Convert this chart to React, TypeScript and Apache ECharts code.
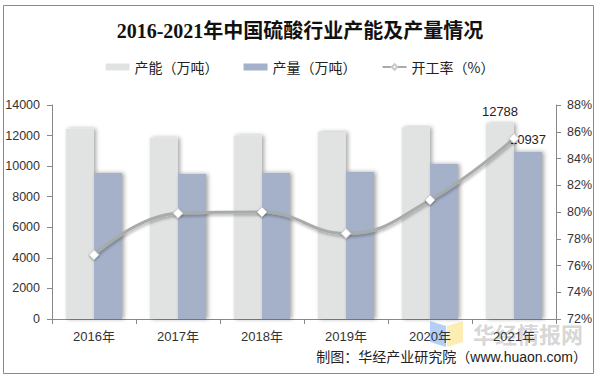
import React, { useEffect, useRef } from "react";
import * as echarts from "echarts";

const years = ["2016年", "2017年", "2018年", "2019年", "2020年", "2021年"];
const capacity = [12450, 11850, 12000, 12240, 12550, 12788];
const output = [9550, 9490, 9560, 9620, 10140, 10937];
const rate = [76.8, 79.9, 80.0, 78.4, 80.9, 85.5];
const leftTicks = { min: 0, max: 14000, interval: 2000 };
const rightTicks = { min: 72, max: 88, interval: 2 };

const CJK = "'Noto Sans CJK SC'";
const SANS = "'Liberation Sans', 'Noto Sans CJK SC', sans-serif";

export default function App() {
  const ref = useRef<HTMLDivElement>(null);
  useEffect(() => {
    if (!ref.current) return;
    const chart = echarts.init(ref.current, undefined, { renderer: "svg" });
    const last = years.length - 1;
    const withLastLabel = (arr: number[]) =>
      arr.map((v, i) =>
        i === last
          ? { value: v, label: { show: true, position: "top", distance: 6, color: "#222", fontSize: 13, fontFamily: SANS } }
          : v
      );
    const barShadow = {
      shadowColor: "rgba(0,0,0,0.35)",
      shadowBlur: 4,
      shadowOffsetX: 2,
      shadowOffsetY: 0,
    };
    chart.setOption({
      animation: false,
      backgroundColor: "#fff",
      title: {
        text: "2016-2021年中国硫酸行业产能及产量情况",
        left: "center",
        top: 16,
        textStyle: {
          fontSize: 20,
          fontWeight: "bold",
          color: "#111",
          fontFamily: "'Liberation Serif', 'Noto Sans CJK SC', serif",
        },
      },
      legend: {
        top: 55,
        left: "center",
        itemWidth: 24,
        itemHeight: 7,
        itemGap: 25,
        textStyle: { fontSize: 14, color: "#222", fontFamily: CJK },
        data: [
          { name: "产能（万吨）", icon: "rect" },
          { name: "产量（万吨）", icon: "rect" },
          { name: "开工率（%）" },
        ],
      },
      grid: { left: 52, right: 44, top: 105, bottom: 61 },
      xAxis: {
        type: "category",
        data: years,
        axisLine: { lineStyle: { color: "#888", width: 1 } },
        axisTick: { show: true, length: 5, lineStyle: { color: "#888" } },
        axisLabel: { color: "#333", fontSize: 13, margin: 11, fontFamily: SANS },
      },
      yAxis: [
        {
          type: "value",
          min: leftTicks.min,
          max: leftTicks.max,
          interval: leftTicks.interval,
          axisLine: { show: true, lineStyle: { color: "#888" } },
          axisTick: { show: true, length: 5, lineStyle: { color: "#888" } },
          splitLine: { show: false },
          axisLabel: {
            color: "#333",
            fontSize: 12.5,
            margin: 12,
            fontFamily: SANS,
            formatter: (v: number) => String(v),
          },
        },
        {
          type: "value",
          min: rightTicks.min,
          max: rightTicks.max,
          interval: rightTicks.interval,
          position: "right",
          axisLine: { show: true, lineStyle: { color: "#888" } },
          axisTick: { show: true, length: 5, lineStyle: { color: "#888" } },
          splitLine: { show: false },
          axisLabel: { color: "#333", fontSize: 12.5, margin: 11, formatter: "{value}%", fontFamily: SANS },
        },
      ],
      series: [
        {
          name: "产能（万吨）",
          type: "bar",
          data: withLastLabel(capacity),
          barWidth: 28,
          barGap: "0%",
          itemStyle: { color: "#e1e3e2", ...barShadow },
        },
        {
          name: "产量（万吨）",
          type: "bar",
          data: withLastLabel(output),
          barWidth: 28,
          barGap: "0%",
          itemStyle: { color: "#a5b1c9", ...barShadow },
        },
        {
          name: "开工率（%）",
          type: "line",
          yAxisIndex: 1,
          data: rate,
          smooth: 0.45,
          symbol: "diamond",
          symbolSize: 10,
          lineStyle: {
            color: "#a7aba9",
            width: 3,
            shadowColor: "rgba(0,0,0,0.3)",
            shadowBlur: 3,
            shadowOffsetX: 1,
            shadowOffsetY: 2,
          },
          itemStyle: {
            color: "#ffffff",
            borderColor: "#c8cac9",
            borderWidth: 1,
            shadowColor: "rgba(0,0,0,0.3)",
            shadowBlur: 2,
            shadowOffsetY: 1,
          },
          z: 5,
        },
      ],
      graphic: [
        {
          type: "rect",
          shape: { x: 3.5, y: 5.5, width: 590, height: 368 },
          style: { fill: "none", stroke: "#8a8a8a", lineWidth: 1 },
          silent: true,
        },
        {
          type: "polygon",
          shape: { points: [[430, 321], [446, 326], [446, 347], [430, 342]] },
          style: { fill: "rgba(120,170,240,0.55)" },
          silent: true,
        },
        {
          type: "polygon",
          shape: { points: [[447, 326], [463, 321], [463, 342], [447, 347]] },
          style: { fill: "rgba(250,225,130,0.6)" },
          silent: true,
        },
        {
          type: "text",
          x: 473,
          y: 333,
          style: {
            text: "华经情报网",
            fontSize: 22,
            fontWeight: "bold",
            fontFamily: CJK,
            fill: "rgba(150,150,150,0.4)",
            verticalAlign: "middle",
          },
          silent: true,
        },
        {
          type: "text",
          x: 587,
          y: 357,
          style: {
            text: "制图：华经产业研究院（www.huaon.com）",
            fontSize: 14,
            fontFamily: SANS,
            fill: "#222",
            align: "right",
            verticalAlign: "middle",
          },
          silent: true,
          z: 10,
        },
      ],
    });
    return () => chart.dispose();
  }, []);
  return (
    <div
      ref={ref}
      style={{ position: "absolute", left: 0, top: 0, width: 600, height: 380 }}
    />
  );
}
